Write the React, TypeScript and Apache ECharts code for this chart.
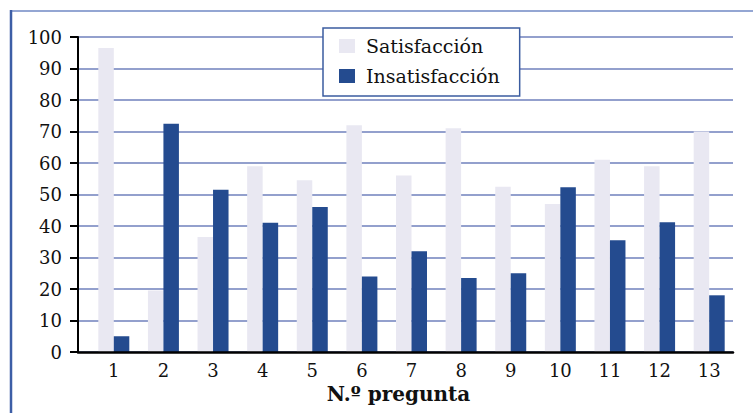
import React, { useEffect, useRef } from "react";
import * as echarts from "echarts";

const categories = ["1", "2", "3", "4", "5", "6", "7", "8", "9", "10", "11", "12", "13"];
const satisfaccion = [96.5, 19.5, 36.5, 59, 54.5, 72, 56, 71, 52.5, 47, 61, 59, 70];
const insatisfaccion = [5, 72.5, 51.5, 41, 46, 24, 32, 23.5, 25, 52.3, 35.5, 41.2, 18];
const yTicks = { min: 0, max: 100, interval: 10 };

const SERIF = "'DejaVu Serif', 'Liberation Serif', serif";

export default function App() {
  const ref = useRef<HTMLDivElement>(null);
  useEffect(() => {
    if (!ref.current) return;
    const chart = echarts.init(ref.current, null, { renderer: "svg" });
    chart.setOption({
      animation: false,
      backgroundColor: "#ffffff",
      graphic: [
        { type: "line", shape: { x1: 11, y1: 11, x2: 753, y2: 11 }, style: { stroke: "#7189c4", lineWidth: 1.5 } },
        { type: "line", shape: { x1: 11, y1: 10, x2: 11, y2: 413 }, style: { stroke: "#3d5ea6", lineWidth: 2.5 } },
      ],
      legend: {
        orient: "vertical",
        left: 323,
        top: 28,
        padding: [8, 20, 10, 16],
        itemWidth: 16,
        itemHeight: 14,
        itemGap: 10,
        backgroundColor: "#ffffff",
        borderColor: "#3b5ca0",
        borderWidth: 1.5,
        icon: "rect",
        textStyle: { fontFamily: SERIF, fontSize: 19, color: "#111", lineHeight: 20, padding: [0, 0, 0, 6] },
        data: ["Satisfacción", "Insatisfacción"],
        z: 20,
      },
      grid: [
        { left: 78, right: 20, top: 37, bottom: 61, containLabel: false },
        { left: 89, right: 19, top: 37, bottom: 61, containLabel: false },
      ],
      xAxis: [
        {
          gridIndex: 0,
          type: "value",
          min: 0,
          max: 1,
          axisLine: { show: true, onZero: false, lineStyle: { color: "#000", width: 2.5 } },
          axisTick: { show: false },
          axisLabel: { show: false },
          splitLine: { show: false },
          z: 10,
        },
        {
          gridIndex: 1,
          type: "category",
          data: categories,
          axisLine: { show: false },
          axisTick: { show: false },
          axisLabel: { fontFamily: SERIF, fontSize: 18, color: "#111", margin: 9 },
          name: "N.º pregunta",
          nameLocation: "middle",
          nameGap: 32,
          nameTextStyle: { fontFamily: SERIF, fontSize: 20, fontWeight: "bold", color: "#111", padding: [0, 26, 0, 0] },
        },
      ],
      yAxis: [
        {
          gridIndex: 0,
          type: "value",
          min: yTicks.min,
          max: yTicks.max,
          interval: yTicks.interval,
          axisLine: { show: true, lineStyle: { color: "#000", width: 2 } },
          axisTick: { show: true, inside: false, length: 8, lineStyle: { color: "#000", width: 2 } },
          axisLabel: { fontFamily: SERIF, fontSize: 18, color: "#111", margin: 16 },
          splitLine: { show: true, lineStyle: { color: "#6f81bd", width: 1.6 } },
        },
        {
          gridIndex: 1,
          type: "value",
          min: yTicks.min,
          max: yTicks.max,
          interval: yTicks.interval,
          show: false,
          splitLine: { show: false },
        },
      ],
      series: [
        {
          name: "Satisfacción",
          type: "bar",
          xAxisIndex: 1,
          yAxisIndex: 1,
          data: satisfaccion,
          barWidth: 15.5,
          barGap: "0%",
          itemStyle: { color: "#e9e8f2" },
        },
        {
          name: "Insatisfacción",
          type: "bar",
          xAxisIndex: 1,
          yAxisIndex: 1,
          data: insatisfaccion,
          barWidth: 15.5,
          barGap: "0%",
          itemStyle: { color: "#244b8f" },
        },
      ],
    });
    return () => chart.dispose();
  }, []);
  return (
    <div style={{ position: "fixed", left: 0, top: 0, width: 753, height: 413, background: "#fff" }}>
      <div ref={ref} style={{ width: 753, height: 413 }} />
    </div>
  );
}
